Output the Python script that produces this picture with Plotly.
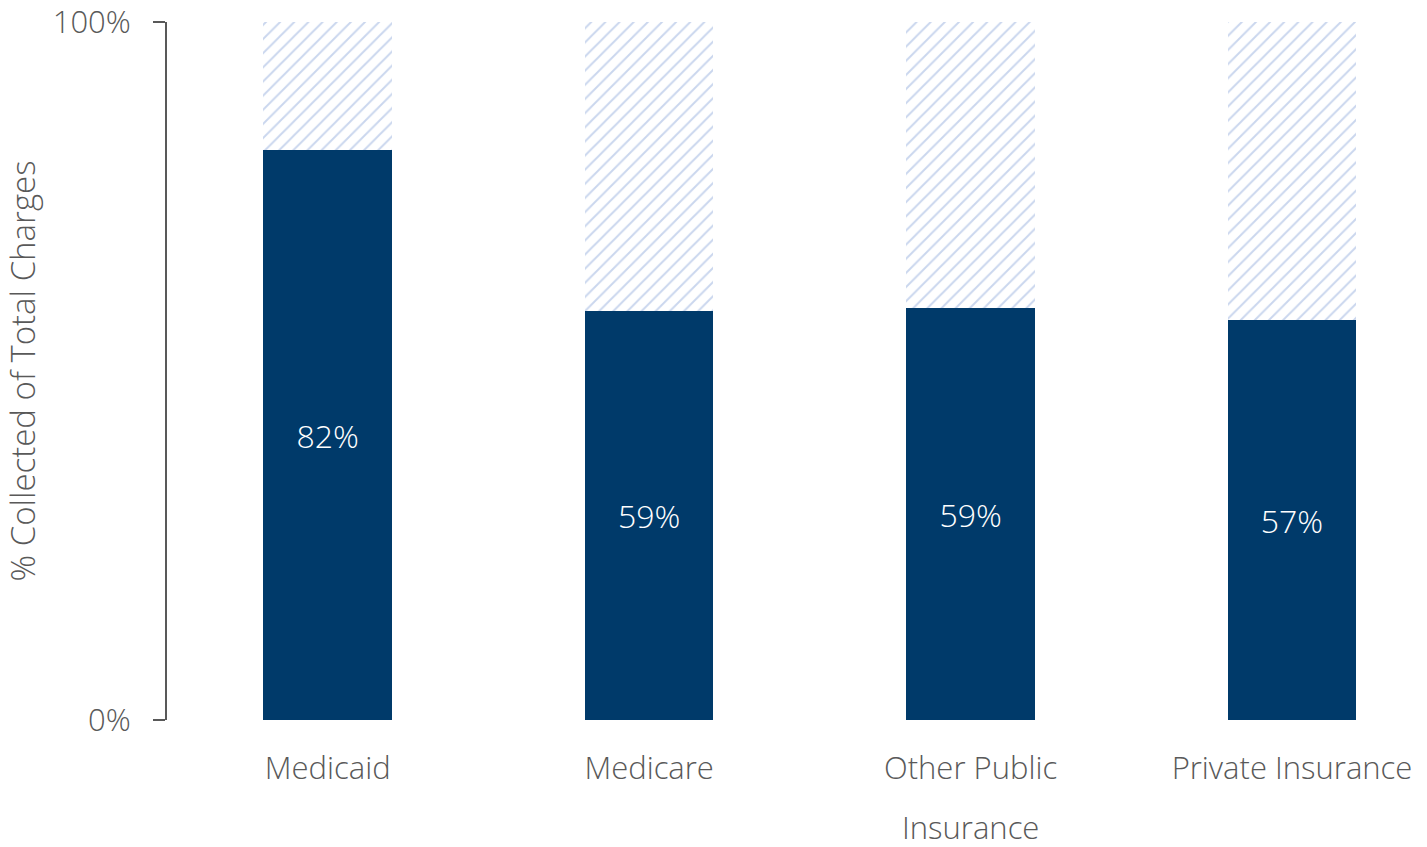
import plotly.graph_objects as go

categories = ["Medicaid", "Medicare", "Other Public", "Private Insurance"]
tick_labels = ["Medicaid", "Medicare", "Other Public", "Private Insurance"]
second_line = {"Other Public": "Insurance"}
collected = [81.6, 58.6, 59.0, 57.3]
labels = ["82%", "59%", "59%", "57%"]
remaining = [100 - v for v in collected]

NAVY = "#003A6A"
GREY = "#595959"
FONT = "Open Sans"

fig = go.Figure()
fig.add_trace(go.Bar(
    x=categories, y=collected, marker=dict(color=NAVY, line=dict(width=0)),
    text=labels, textposition="inside", insidetextanchor="middle",
    textfont=dict(color="white", size=32, family=FONT, weight=300), width=0.4,
    hoverinfo="skip",
))
fig.add_trace(go.Bar(
    x=categories, y=remaining,
    marker=dict(color="white", line=dict(width=0),
                pattern=dict(shape="/", fgcolor="#96AEDD", bgcolor="white", size=10, solidity=0.2)),
    width=0.4, hoverinfo="skip",
))

for cat, txt in second_line.items():
    fig.add_annotation(x=cat, y=0, xref="x", yref="y", text=txt, showarrow=False,
                       yanchor="middle", yshift=-107,
                       font=dict(size=31, color=GREY, family=FONT, weight=300))

fig.update_layout(
    barmode="stack", showlegend=False,
    width=1427, height=847,
    margin=dict(l=167, r=0, t=20, b=127),
    plot_bgcolor="white", paper_bgcolor="white",
    font=dict(family=FONT, color=GREY, size=22),
)
fig.update_xaxes(
    range=[-0.5, 3.42], showline=False, ticks="", showgrid=False,
    tickvals=categories, ticktext=tick_labels, ticklabelstandoff=27,
    ticklabeloverflow="allow",
    tickfont=dict(size=31, color=GREY, family=FONT, weight=300),
)
fig.update_yaxes(
    range=[0, 100], tickvals=[0, 100], ticktext=["0%", "100%"],
    showline=True, linecolor=GREY, linewidth=2, ticks="outside", ticklen=12,
    tickcolor=GREY, tickwidth=2, showgrid=False, zeroline=False,
    ticklabelstandoff=16, ticklabeloverflow="allow",
    tickfont=dict(size=31, color=GREY, family=FONT, weight=300),
    title=dict(text="% Collected of Total Charges", font=dict(size=33, color=GREY, family=FONT, weight=300), standoff=10),
)

fig.write_html("out.html")
